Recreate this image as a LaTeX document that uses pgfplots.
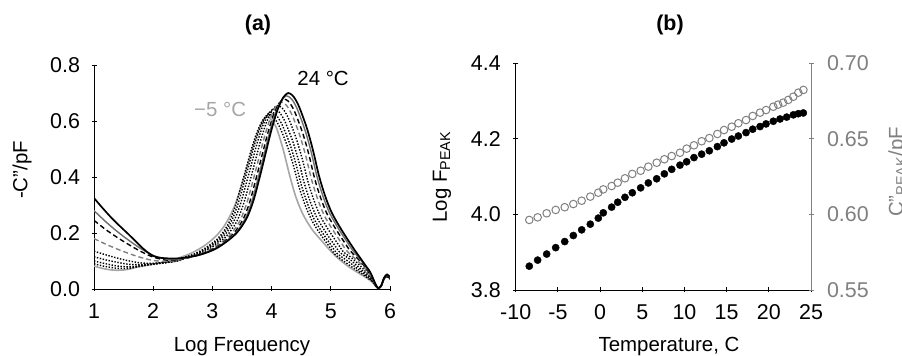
\documentclass[border=0pt]{standalone}
\usepackage{fontspec}
\setmainfont{Liberation Sans}
\usepackage{pgfplots}
\pgfplotsset{compat=1.18}
\definecolor{dg}{HTML}{6E6E6E}
\definecolor{mg}{HTML}{808080}
\definecolor{lg}{HTML}{A6A6A6}
\newcommand{\fs}{\fontsize{20.5}{24}\selectfont}
\newcommand{\ft}{\fontsize{21.5}{25}\selectfont}
\begin{document}
\begin{tikzpicture}
\path[use as bounding box] (0bp,0bp) rectangle (902bp,356bp);
\pgfplotsset{every axis/.append style={
  scale only axis,
  /pgf/number format/assume math mode=true,
  tick label style={font=\ft},
  xticklabel style={yshift=-9bp},
  tick align=outside, major tick length=5bp,
  axis line style={-, line width=0.9pt},
  tick style={line width=0.9pt, black},
}}
% ---------------- panel (a)
\begin{axis}[at={(94bp,67bp)}, anchor=south west, width=296bp, height=224bp,
  axis x line=bottom, axis y line=left, axis line style={-},
  xmin=1, xmax=6, ymin=0, ymax=0.8,
  xtick={1,2,3,4,5,6}, ytick={0,0.2,0.4,0.6,0.8},
  yticklabel style={xshift=-8bp, /pgf/number format/.cd, fixed, fixed zerofill, precision=1},
  every axis plot/.append style={smooth, tension=0.5, line width=1.4bp}]
% -5 C light gray
\addplot[lg, line width=1.6bp] coordinates {(1.0,0.082)(1.1,0.076)(1.2,0.071)(1.3,0.068)(1.4,0.067)(1.5,0.068)(1.6,0.071)(1.7,0.077)(1.8,0.081)(1.9,0.085)(2.0,0.089)(2.1,0.093)(2.2,0.098)(2.3,0.103)(2.4,0.109)(2.5,0.116)(2.6,0.124)(2.7,0.134)(2.8,0.146)(2.9,0.160)(3.0,0.177)(3.1,0.198)(3.2,0.225)(3.3,0.262)(3.4,0.310)(3.5,0.375)(3.6,0.447)(3.7,0.518)(3.8,0.578)(3.87,0.608)(3.92,0.615)(3.97,0.610)(4.05,0.588)(4.1,0.565)(4.2,0.495)(4.3,0.410)(4.4,0.335)(4.5,0.280)(4.6,0.240)(4.7,0.208)(4.8,0.183)(4.9,0.159)(5.0,0.135)(5.1,0.114)(5.2,0.096)(5.3,0.080)(5.4,0.066)(5.5,0.053)(5.6,0.040)(5.7,0.025)(5.75,0.012)(5.8,0.002)(5.85,0.010)(5.9,0.035)(5.95,0.045)(6.0,0.035)};
% curve 8 dotted
\addplot[black, dash pattern=on 1.4bp off 1.6bp] coordinates {(1.0,0.090)(1.2,0.080)(1.4,0.074)(1.6,0.074)(1.8,0.082)(2.0,0.088)(2.2,0.094)(2.4,0.102)(2.47,0.109)(2.67,0.123)(2.87,0.145)(3.07,0.176)(3.17,0.200)(3.27,0.233)(3.37,0.284)(3.47,0.356)(3.57,0.431)(3.67,0.507)(3.77,0.569)(3.87,0.609)(3.95,0.622)(4.02,0.615)(4.07,0.603)(4.12,0.585)(4.17,0.562)(4.27,0.508)(4.37,0.440)(4.47,0.360)(4.57,0.298)(4.67,0.249)(4.77,0.213)(4.87,0.182)(4.97,0.153)(5.07,0.124)(5.3,0.087)(5.5,0.058)(5.6,0.043)(5.7,0.027)(5.75,0.013)(5.8,0.002)(5.85,0.010)(5.9,0.035)(5.95,0.045)(6.0,0.035)};
% curve 7 dotted
\addplot[black, dash pattern=on 1.4bp off 1.6bp] coordinates {(1.0,0.100)(1.2,0.090)(1.4,0.082)(1.6,0.079)(1.8,0.084)(2.0,0.089)(2.2,0.094)(2.4,0.101)(2.51,0.111)(2.71,0.125)(2.91,0.147)(3.11,0.179)(3.21,0.203)(3.31,0.237)(3.41,0.289)(3.51,0.361)(3.61,0.438)(3.71,0.515)(3.81,0.578)(3.91,0.619)(3.99,0.632)(4.06,0.625)(4.11,0.612)(4.16,0.594)(4.21,0.571)(4.31,0.517)(4.41,0.447)(4.51,0.366)(4.61,0.303)(4.71,0.253)(4.81,0.217)(4.91,0.185)(5.01,0.155)(5.11,0.126)(5.3,0.098)(5.5,0.064)(5.6,0.048)(5.7,0.029)(5.75,0.014)(5.8,0.002)(5.85,0.010)(5.9,0.036)(5.95,0.046)(6.0,0.036)};
% curve 6 dotted
\addplot[black, dash pattern=on 1.4bp off 1.6bp] coordinates {(1.0,0.115)(1.2,0.104)(1.4,0.095)(1.6,0.088)(1.8,0.087)(2.0,0.090)(2.2,0.094)(2.4,0.100)(2.56,0.113)(2.76,0.127)(2.96,0.150)(3.16,0.182)(3.26,0.207)(3.36,0.241)(3.46,0.294)(3.56,0.368)(3.66,0.446)(3.76,0.524)(3.86,0.588)(3.96,0.630)(4.04,0.643)(4.11,0.636)(4.16,0.623)(4.21,0.605)(4.26,0.581)(4.36,0.526)(4.46,0.455)(4.56,0.372)(4.66,0.308)(4.76,0.257)(4.86,0.221)(4.96,0.188)(5.06,0.158)(5.16,0.129)(5.3,0.110)(5.5,0.072)(5.6,0.053)(5.7,0.032)(5.75,0.015)(5.8,0.002)(5.85,0.010)(5.9,0.037)(5.95,0.047)(6.0,0.037)};
% curve 5 dotted
\addplot[black, dash pattern=on 1.4bp off 1.6bp] coordinates {(1.0,0.135)(1.2,0.122)(1.4,0.110)(1.6,0.100)(1.8,0.093)(2.0,0.092)(2.2,0.095)(2.4,0.100)(2.62,0.115)(2.82,0.129)(3.02,0.153)(3.22,0.185)(3.32,0.211)(3.42,0.245)(3.52,0.300)(3.62,0.374)(3.72,0.454)(3.82,0.534)(3.92,0.599)(4.02,0.641)(4.10,0.655)(4.17,0.648)(4.22,0.635)(4.27,0.616)(4.32,0.592)(4.42,0.535)(4.52,0.463)(4.62,0.379)(4.72,0.314)(4.82,0.262)(4.92,0.225)(5.02,0.192)(5.12,0.161)(5.22,0.131)(5.35,0.112)(5.5,0.082)(5.6,0.060)(5.7,0.035)(5.75,0.016)(5.8,0.003)(5.85,0.011)(5.9,0.037)(5.95,0.048)(6.0,0.038)};
% curve 4 gray dashed
\addplot[mg, dash pattern=on 5bp off 3bp] coordinates {(1.0,0.180)(1.2,0.160)(1.4,0.142)(1.6,0.126)(1.8,0.112)(2.0,0.102)(2.2,0.099)(2.4,0.102)(2.68,0.117)(2.88,0.132)(3.08,0.156)(3.28,0.189)(3.38,0.215)(3.48,0.250)(3.58,0.306)(3.68,0.382)(3.78,0.463)(3.88,0.544)(3.98,0.611)(4.08,0.654)(4.16,0.668)(4.23,0.661)(4.28,0.647)(4.33,0.628)(4.38,0.604)(4.48,0.546)(4.58,0.473)(4.68,0.387)(4.78,0.320)(4.88,0.267)(4.98,0.229)(5.08,0.196)(5.18,0.164)(5.28,0.134)(5.5,0.091)(5.6,0.067)(5.7,0.038)(5.75,0.017)(5.8,0.003)(5.85,0.011)(5.9,0.038)(5.95,0.050)(6.0,0.040)};
% curve 3 black dashed
\addplot[black, dash pattern=on 5bp off 3bp] coordinates {(1.0,0.245)(1.2,0.212)(1.4,0.183)(1.6,0.157)(1.8,0.133)(2.0,0.114)(2.2,0.104)(2.4,0.103)(2.73,0.119)(2.93,0.134)(3.13,0.158)(3.33,0.192)(3.43,0.218)(3.53,0.254)(3.63,0.310)(3.73,0.388)(3.83,0.470)(3.93,0.552)(4.03,0.620)(4.13,0.664)(4.21,0.678)(4.28,0.671)(4.33,0.657)(4.38,0.638)(4.43,0.612)(4.53,0.554)(4.63,0.480)(4.73,0.392)(4.83,0.325)(4.93,0.271)(5.03,0.233)(5.13,0.199)(5.23,0.167)(5.33,0.136)(5.5,0.099)(5.6,0.072)(5.7,0.041)(5.75,0.018)(5.8,0.003)(5.85,0.011)(5.9,0.039)(5.95,0.050)(6.0,0.040)};
% curve 2 gray solid
\addplot[dg] coordinates {(1.0,0.280)(1.2,0.240)(1.4,0.204)(1.6,0.172)(1.8,0.143)(2.0,0.120)(2.2,0.108)(2.4,0.105)(2.77,0.121)(2.97,0.136)(3.17,0.161)(3.37,0.195)(3.47,0.222)(3.57,0.258)(3.67,0.316)(3.77,0.394)(3.87,0.478)(3.97,0.562)(4.07,0.631)(4.17,0.675)(4.25,0.690)(4.32,0.682)(4.37,0.669)(4.42,0.649)(4.47,0.623)(4.57,0.564)(4.67,0.488)(4.77,0.399)(4.87,0.330)(4.97,0.276)(5.07,0.237)(5.17,0.202)(5.27,0.170)(5.37,0.138)(5.5,0.105)(5.6,0.077)(5.65,0.063)(5.7,0.043)(5.75,0.019)(5.8,0.003)(5.85,0.011)(5.9,0.040)(5.95,0.051)(6.0,0.041)};
% 24 C black solid
\addplot[black, line width=1.7bp] coordinates {(1.0,0.325)(1.1,0.300)(1.2,0.276)(1.3,0.253)(1.4,0.232)(1.5,0.212)(1.6,0.192)(1.7,0.171)(1.8,0.150)(1.9,0.132)(2.0,0.118)(2.1,0.112)(2.2,0.110)(2.3,0.109)(2.4,0.109)(2.5,0.111)(2.6,0.114)(2.7,0.118)(2.8,0.123)(2.9,0.130)(3.0,0.138)(3.1,0.149)(3.2,0.163)(3.3,0.179)(3.4,0.198)(3.5,0.225)(3.6,0.262)(3.7,0.320)(3.8,0.400)(3.9,0.485)(4.0,0.570)(4.1,0.640)(4.2,0.685)(4.28,0.700)(4.35,0.692)(4.4,0.678)(4.45,0.658)(4.5,0.632)(4.6,0.572)(4.7,0.495)(4.8,0.405)(4.9,0.335)(5.0,0.280)(5.1,0.240)(5.2,0.205)(5.3,0.172)(5.4,0.140)(5.5,0.110)(5.6,0.080)(5.65,0.066)(5.7,0.045)(5.75,0.020)(5.8,0.003)(5.85,0.012)(5.9,0.040)(5.95,0.052)(6.0,0.042)};
\node[font=\fs, black] at (axis cs:4.87,0.753) {24 °C};
\node[font=\fs, lg] at (axis cs:3.13,0.64) {−5 °C};
\end{axis}
% ---------------- panel (b)
\begin{axis}[at={(515.7bp,66bp)}, anchor=south west, width=295.3bp, height=227bp,
  axis x line=bottom, axis y line=left, axis line style={-},
  xmin=-10, xmax=25, ymin=3.8, ymax=4.4,
  xtick={-10,-5,0,5,10,15,20,25}, ytick={3.8,4.0,4.2,4.4},
  yticklabel style={xshift=-9bp, /pgf/number format/.cd, fixed, fixed zerofill, precision=1}]
\addplot[only marks, mark=*, mark size=3.6bp, black] coordinates {(-8.39,3.863)(-7.40,3.879)(-6.33,3.895)(-5.26,3.912)(-4.19,3.928)(-3.17,3.944)(-2.18,3.959)(-1.16,3.974)(-0.21,3.990)(0.38,4.004)(1.37,4.019)(2.09,4.032)(2.95,4.045)(3.82,4.057)(4.81,4.070)(5.72,4.083)(6.71,4.094)(7.62,4.107)(8.49,4.119)(9.47,4.130)(10.26,4.139)(11.13,4.150)(12.04,4.159)(12.95,4.168)(13.90,4.179)(14.69,4.189)(15.60,4.199)(16.39,4.207)(17.30,4.216)(18.09,4.225)(18.96,4.232)(19.67,4.239)(20.53,4.246)(21.33,4.252)(22.12,4.257)(22.91,4.263)(23.50,4.266)(24.09,4.268)};
\end{axis}
\begin{axis}[at={(515.7bp,66bp)}, anchor=south west, width=295.3bp, height=227bp,
  axis x line=none, axis y line=right, axis line style={-, mg},
  xmin=-10, xmax=25, ymin=0.55, ymax=0.70,
  ytick={0.55,0.60,0.65,0.70}, ytick style={mg},
  yticklabel style={mg, xshift=10bp, /pgf/number format/.cd, fixed, fixed zerofill, precision=2}]
\addplot[only marks, mark=o, mark size=3.8bp, mg, mark options={line width=1bp}] coordinates {(-8.39,0.5963)(-7.40,0.5980)(-6.33,0.6007)(-5.26,0.6029)(-4.19,0.6047)(-3.17,0.6068)(-2.18,0.6090)(-1.16,0.6117)(-0.21,0.6143)(0.38,0.6165)(1.37,0.6187)(2.09,0.6209)(2.95,0.6238)(3.82,0.6267)(4.81,0.6288)(5.72,0.6315)(6.71,0.6341)(7.62,0.6364)(8.49,0.6385)(9.47,0.6407)(10.26,0.6434)(11.13,0.6456)(12.04,0.6483)(12.95,0.6504)(13.90,0.6531)(14.69,0.6557)(15.60,0.6579)(16.39,0.6602)(17.30,0.6623)(18.09,0.6650)(18.96,0.6672)(19.67,0.6689)(20.53,0.6711)(21.10,0.6725)(21.70,0.6738)(22.30,0.6756)(22.90,0.6777)(23.50,0.6804)(24.10,0.6822)};
\end{axis}
% ---------------- titles and labels
\node[font=\ft\bfseries] at (258bp,331bp) {(a)};
\node[font=\ft\bfseries] at (670bp,331bp) {(b)};
\node[font=\fs, anchor=base] at (242bp,4.5bp) {Log Frequency};
\node[font=\fs, anchor=base] at (669bp,4.5bp) {Temperature, C};
\node[font=\fs, rotate=90] at (22bp,186bp) {-C"/pF};
\node[font=\fs, rotate=90] at (442bp,179bp) {Log F\textsubscript{PEAK}};
\node[font=\fs, rotate=90, anchor=base, mg] at (903bp,184bp) {C"\textsubscript{PEAK}/pF};
\end{tikzpicture}
\end{document}
